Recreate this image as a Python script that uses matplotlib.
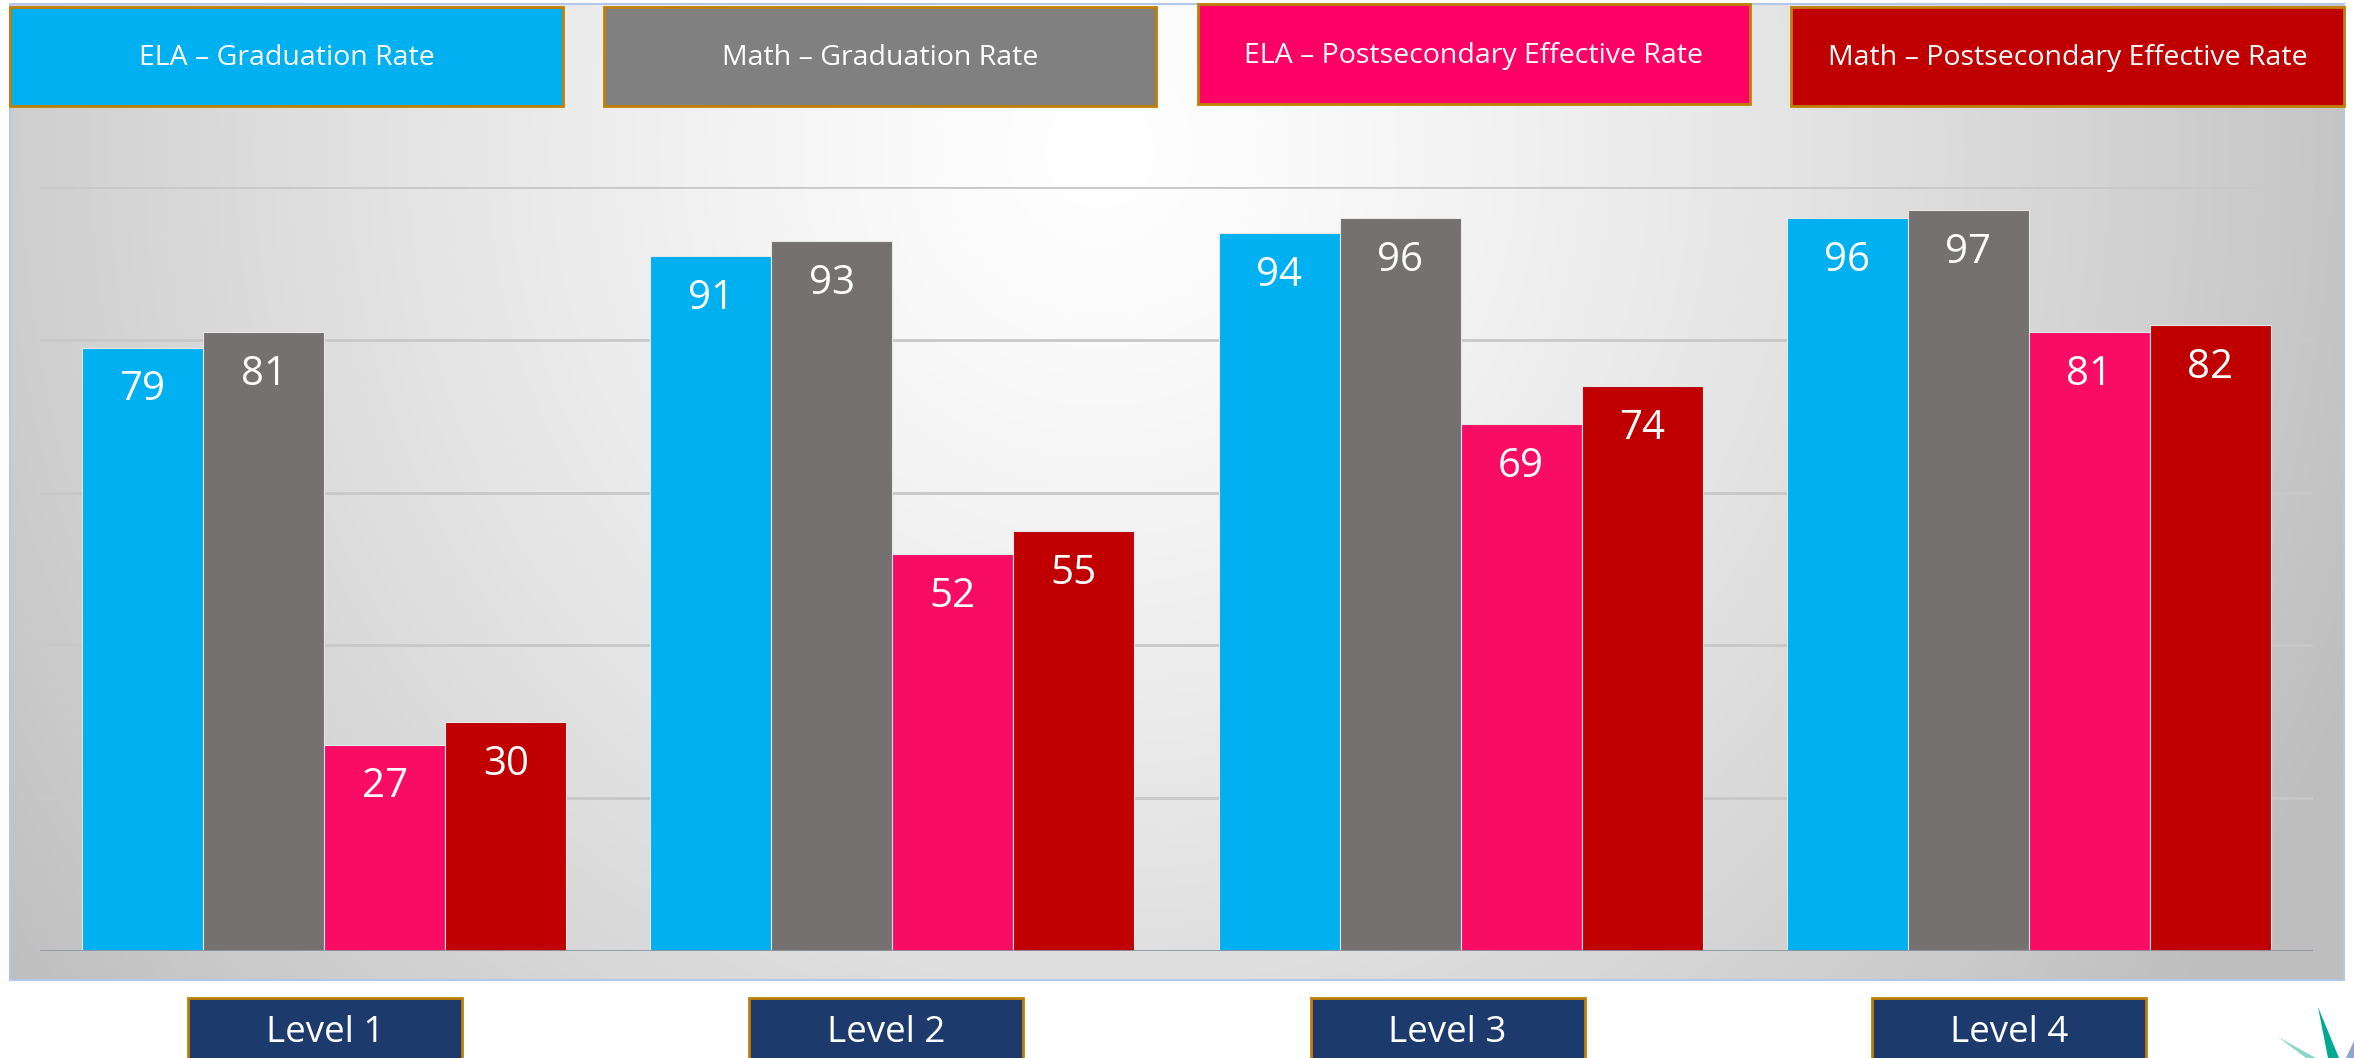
import numpy as np
import matplotlib.pyplot as plt
from matplotlib.patches import Rectangle, Polygon

plt.rcParams['font.family'] = ['Open Sans', 'DejaVu Sans']

# data
levels = ["Level 1", "Level 2", "Level 3", "Level 4"]
series = ["ELA – Graduation Rate", "Math – Graduation Rate",
          "ELA – Postsecondary Effective Rate", "Math – Postsecondary Effective Rate"]
ela_grad = [79, 91, 94, 96]
math_grad = [81, 93, 96, 97]
ela_post = [27, 52, 69, 81]
math_post = [30, 55, 74, 82]
values = [ela_grad, math_grad, ela_post, math_post]

bar_colors = ["#00B0F0", "#767171", "#F80C64", "#C00000"]
box_colors = ["#00B0F0", "#808080", "#FF0066", "#C00000"]
gold = "#BF7F06"
navy = "#1D3A6D"

W, H = 2354, 1058


def fx(x):
    return x / W


def fy(y):
    return 1 - y / H


fig = plt.figure(figsize=(W / 100, H / 100), dpi=100)
fig.patch.set_facecolor("white")

# panel background with soft radial gradient
bg = fig.add_axes([fx(10), fy(980), fx(2344) - fx(10), fy(4) - fy(980)])
xs = np.linspace(10, 2344, 500)
ys = np.linspace(4, 980, 220)
X, Y = np.meshgrid(xs, ys)
d = np.sqrt(((X - 1100) / 1250) ** 2 + ((Y - 150) / 1300) ** 2)
g = np.clip(255 - 58 * d ** 1.3, 190, 255) / 255
bg.imshow(np.dstack([g, g, g]), aspect="auto", extent=(0, 1, 0, 1),
          origin="upper", interpolation="bilinear")
bg.set_axis_off()
fig.add_artist(Rectangle((fx(10), fy(980)), fx(2344) - fx(10), fy(4) - fy(980),
                         transform=fig.transFigure, fill=False,
                         edgecolor="#B4C7E7", linewidth=1.5, zorder=4))

# bar chart
ax = fig.add_axes([fx(40), fy(950.8), fx(2313) - fx(40), fy(187.3) - fy(950.8)])
ax.patch.set_alpha(0)
ax.set_xlim(-0.5, 3.5)
ax.set_ylim(0, 100)
for s in ax.spines.values():
    s.set_visible(False)
ax.set_xticks([])
ax.set_yticks([])
for yv in range(20, 101, 20):
    ax.axhline(yv, color="#c8c8c8", linewidth=2, zorder=0)
ax.axhline(0, color="#8e96a2", linewidth=2, zorder=3)

x = np.arange(len(levels))
w = 0.213
for i, vals in enumerate(values):
    pos = x + (i - 1.5) * w
    ax.bar(pos, vals, w, color=bar_colors[i], edgecolor="#e6e6e6",
           linewidth=0.8, zorder=2)
    for xi, v in zip(pos, vals):
        ax.annotate(str(v), (xi, v), xytext=(0, -38), textcoords="offset points",
                    ha="center", va="baseline", color="white", fontsize=29)

# series boxes on top
boxes = [(10, 6.7, 563, 106), (604, 6.7, 1156, 106),
         (1198, 4, 1750, 104), (1791, 6.7, 2344, 106)]
for (x0, y0, x1, y1), name, c in zip(boxes, series, box_colors):
    fig.add_artist(Rectangle((fx(x0), fy(y1)), fx(x1) - fx(x0), fy(y0) - fy(y1),
                             transform=fig.transFigure, facecolor=c,
                             edgecolor=gold, linewidth=2, zorder=5))
    fig.text(fx((x0 + x1) / 2), fy(y0 + 58.5), name, ha="center", va="baseline",
             color="white", fontsize=20.5, zorder=6)

# level boxes below
for i, lv in enumerate(levels):
    cx = 325 + i * 561.3
    fig.add_artist(Rectangle((fx(cx - 137), fy(1075)), 274 / W, fy(998) - fy(1075),
                             transform=fig.transFigure, facecolor=navy,
                             edgecolor=gold, linewidth=2, zorder=5))
    fig.text(fx(cx), fy(1041.7), lv, ha="center", va="baseline",
             color="white", fontsize=26.5, zorder=6)

# corner logo fragment
spikes = [([(2318, 1007), (2328, 1058), (2339, 1058)], "#00A98F"),
          ([(2278, 1037), (2306, 1058), (2316, 1058)], "#8DD5C4"),
          ([(2354, 1041), (2346, 1058), (2354, 1058)], "#8FA6CF")]
for pts, c in spikes:
    fig.add_artist(Polygon([(fx(a), fy(b)) for a, b in pts], closed=True,
                           transform=fig.transFigure, facecolor=c,
                           edgecolor="none", zorder=5))

fig.savefig("out.png", dpi=100)
